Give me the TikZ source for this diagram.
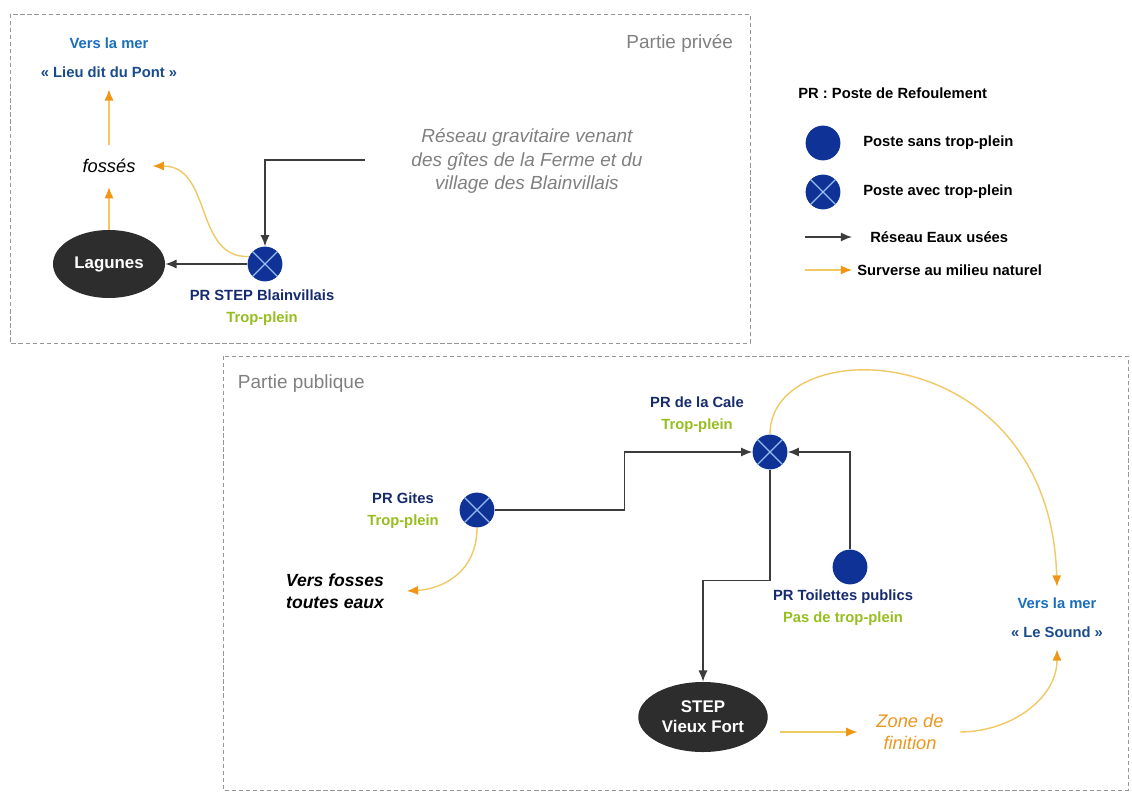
\documentclass[tikz,border=0pt]{standalone}
\usepackage{fontspec}
\setmainfont{Liberation Sans}
\usepackage{tikz}
\usetikzlibrary{shapes.geometric,arrows.meta}
\definecolor{prblue}{RGB}{14,50,150}
\definecolor{crossblue}{RGB}{150,190,245}
\definecolor{navy}{RGB}{22,42,110}
\definecolor{tpgreen}{RGB}{150,190,30}
\definecolor{seablue}{RGB}{25,110,190}
\definecolor{seadark}{RGB}{25,75,140}
\definecolor{sewergray}{RGB}{60,60,60}
\definecolor{overline}{RGB}{240,200,100}
\definecolor{overtip}{RGB}{240,150,20}
\definecolor{lagoonfill}{RGB}{45,45,45}
\definecolor{boxgray}{RGB}{150,150,150}
\definecolor{zoneorange}{RGB}{235,150,30}

\begin{document}
\begin{tikzpicture}[x=0.025cm, y=-0.025cm,
	pr/.style={circle, fill=prblue, minimum size=0.87cm, inner sep=0pt},
	prx/.style={pr, path picture={\draw[crossblue, line width=0.8pt]
		(path picture bounding box.north west) -- (path picture bounding box.south east)
		(path picture bounding box.south west) -- (path picture bounding box.north east);}},
	lagoon/.style={ellipse, fill=lagoonfill, text=white, align=center,
		font=\fontsize{12}{14}\selectfont\bfseries, minimum width=2.8cm, minimum height=1.7cm},
	prname/.style={font=\fontsize{10.5}{15.5}\selectfont\bfseries, text=navy, align=center},
	sea/.style={font=\fontsize{10.5}{20.5}\selectfont\bfseries, align=center, inner ysep=8pt},
	ditch/.style={font=\fontsize{13}{15.5}\selectfont\itshape, inner xsep=12pt, inner ysep=10pt, align=center},
	legend/.style={font=\fontsize{10.5}{13}\selectfont\bfseries, anchor=west, inner sep=0pt},
	part/.style={font=\fontsize{13.5}{16}\selectfont, text=gray},
	zonebox/.style={draw=boxgray, line width=0.6pt, dash pattern=on 3pt off 2pt},
	sewer/.style={draw=sewergray, line width=1.1pt, -{Latex[length=8pt,width=6.5pt]}},
	overflow/.style={draw=overline, line width=1pt, -{Latex[length=8pt,width=6.5pt,color=overtip]}}]
  \useasboundingbox (0,0) rectangle (1132,794);
  \draw[zonebox] (10,14) rectangle (750,343);
  \draw[zonebox] (223,356) rectangle (1128,790);
  \node[part, anchor=east] (privee) at (738,43) {Partie privée};
  \node[part, anchor=west] (publique) at (233,384) {Partie publique};

  \node[lagoon] (lagunes) at (109,264) {Lagunes};
  \node[prx] (blain) at (265,264) {};
  \node[prname] (blainlbl) at (262,308) {PR STEP Blainvillais\\\textcolor{tpgreen}{Trop-plein}};
  \node[ditch] (fosses) at (109,166) {fossés};
  \node[sea] (pont) at (109,58) {\textcolor{seablue}{Vers la mer}\\\textcolor{seadark}{« Lieu dit du Pont »}};
  \node[font=\fontsize{13.5}{16.5}\selectfont\itshape, text=gray, align=center] (gravtxt) at (527,161)
    {Réseau gravitaire venant\\des gîtes de la Ferme et du\\village des Blainvillais};
  \coordinate (gravin) at (365,160);
  \draw[sewer] (gravin) -| (blain.north);
  \draw[sewer] (blain) -- (lagunes);
  \draw[overflow] (lagunes) -- (fosses);
  \draw[overflow] (fosses) -- (pont);
  \draw[overflow] (blain.155) .. controls +(-55,2) and +(60,0) .. (fosses.east);

  \node[legend] (keytitle) at (798,93) {PR : Poste de Refoulement};
  \node[pr] (keyfull) at (823,143) {};
  \node[legend] (keyfulltxt) at (863,143) {Poste sans trop-plein};
  \node[prx] (keycross) at (823,192) {};
  \node[legend] (keycrosstxt) at (863,192) {Poste avec trop-plein};
  \coordinate (keysewer) at (805,237);
  \draw[sewer] (keysewer) -- ++(47,0);
  \node[legend] (keysewertxt) at (870,237) {Réseau Eaux usées};
  \coordinate (keyover) at (805,270);
  \draw[overflow] (keyover) -- ++(47,0);
  \node[legend] (keyovertxt) at (857,270) {Surverse au milieu naturel};

  \node[prx] (gites) at (477,510) {};
  \node[prname] (giteslbl) at (403,511) {PR Gites\\\textcolor{tpgreen}{Trop-plein}};
  \node[ditch, font=\fontsize{12.5}{15.5}\selectfont\bfseries\itshape] (fosses2) at (335,591) {Vers fosses\\toutes eaux};
  \node[prx] (cale) at (770,452) {};
  \node[prname] (calelbl) at (697,415) {PR de la Cale\\\textcolor{tpgreen}{Trop-plein}};
  \node[pr] (toil) at (850,567) {};
  \node[prname] (toillbl) at (843,608) {PR Toilettes publics\\\textcolor{tpgreen}{Pas de trop-plein}};
  \node[lagoon, minimum width=2.95cm, minimum height=1.75cm] (step) at (703,717) {STEP\\Vieux Fort};
  \node[font=\fontsize{13}{15.5}\selectfont\itshape, text=zoneorange, align=center] (zone) at (910,732) {Zone de\\finition};
  \node[sea] (sound) at (1057,618) {\textcolor{seablue}{Vers la mer}\\\textcolor{seadark}{« Le Sound »}};

  \draw[sewer] (gites.east) -- ++(130,0) |- (cale.west);
  \draw[sewer] (toil.north) |- (cale.east);
  \draw[sewer] (cale.south) -- ++(0,111) -| (step.north);
  \draw[overflow] (gites.south) .. controls +(0,45) and +(35,-2) .. ([xshift=4pt]fosses2.east);
  \draw[overflow] ([shift={(12,15)}]step.east) -- ([xshift=-10pt]zone.west);
  \draw[overflow] ([xshift=8pt]zone.east) to[out=0,in=-90] (sound.south);
  \draw[overflow] (cale.north) .. controls +(0,-105) and +(-7,-250) .. (sound.north);
\end{tikzpicture}
\end{document}
